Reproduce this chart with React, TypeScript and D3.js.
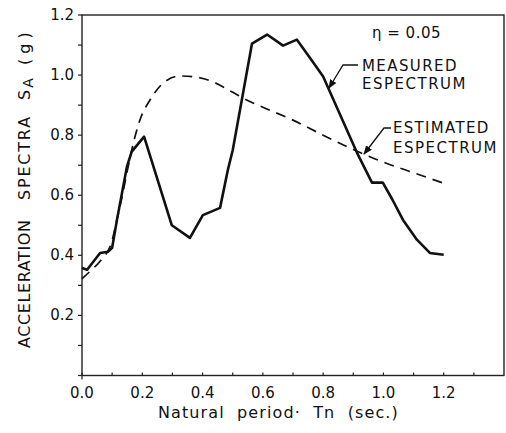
import React from "react";
import * as d3 from "d3";

// natural period T (sec) vs spectral acceleration SA (g)
const measuredT = [0, 0.017, 0.06, 0.086, 0.1, 0.116, 0.149, 0.165, 0.206, 0.298, 0.358, 0.401, 0.458, 0.484, 0.5, 0.564, 0.614, 0.667, 0.713, 0.756, 0.8, 0.912, 0.962, 0.998, 1.03, 1.065, 1.111, 1.154, 1.2];
const measuredSA = [0.358, 0.352, 0.408, 0.412, 0.425, 0.518, 0.695, 0.745, 0.795, 0.5, 0.458, 0.534, 0.558, 0.685, 0.75, 1.105, 1.135, 1.098, 1.118, 1.058, 0.995, 0.742, 0.642, 0.642, 0.585, 0.518, 0.452, 0.408, 0.402];

const estimatedT = [0, 0.03, 0.06, 0.1, 0.116, 0.133, 0.149, 0.166, 0.192, 0.226, 0.275, 0.325, 0.38, 0.44, 0.49, 0.557, 0.6, 0.7, 0.8, 0.9, 1.0, 1.1, 1.2];
const estimatedSA = [0.322, 0.35, 0.38, 0.45, 0.52, 0.595, 0.675, 0.755, 0.85, 0.918, 0.978, 0.997, 0.993, 0.975, 0.948, 0.912, 0.893, 0.85, 0.8, 0.752, 0.71, 0.675, 0.64];

const xTickLabels = ["0.0", "0.2", "0.4", "0.6", "0.8", "1.0", "1.2"];
const yTickLabels = ["0.2", "0.4", "0.6", "0.8", "1.0", "1.2"];

const font = "'DejaVu Sans', sans-serif";

const App = () => {
  const x = d3.scaleLinear().domain([0, 1.4]).range([82, 504]);
  const y = d3.scaleLinear().domain([0, 1.2]).range([375.5, 15]);

  const line = d3
    .line<number>()
    .x((d, i) => x(measuredT[i]))
    .y((d) => y(d));

  const dashLine = d3
    .line<number>()
    .x((d, i) => x(estimatedT[i]))
    .y((d) => y(d))
    .curve(d3.curveMonotoneX);

  const minor = d3.range(0, 13).map((i) => i / 10);
  const minorX = d3.range(0, 14).map((i) => i / 10);

  return (
    <div style={{ position: "absolute", left: 0, top: 0 }}>
      <svg width={506} height={433} style={{ display: "block", background: "#fff" }}>
        <defs>
          <marker id="arr" viewBox="0 0 10 10" refX="9" refY="5" markerWidth="7" markerHeight="7" orient="auto">
            <path d="M0,1 L10,5 L0,9 z" fill="#111" />
          </marker>
        </defs>

        {/* frame */}
        <rect x={x(0)} y={y(1.2)} width={x(1.4) - x(0)} height={y(0) - y(1.2)} fill="none" stroke="#222" strokeWidth={1.4} />

        {/* y ticks */}
        {minor.map((v) => (
          <line key={"yt" + v} x1={x(0) - 4} x2={x(0)} y1={y(v)} y2={y(v)} stroke="#222" strokeWidth={1.2} />
        ))}
        {/* x ticks */}
        {minorX.map((v) => (
          <line key={"xt" + v} x1={x(v)} x2={x(v)} y1={y(0)} y2={y(0) - 3} stroke="#222" strokeWidth={1.2} />
        ))}
        <line x1={x(0)} x2={x(0)} y1={y(0)} y2={y(0) + 4} stroke="#222" strokeWidth={1.2} />

        {/* tick labels */}
        {yTickLabels.map((t) => (
          <text key={"yl" + t} x={74} y={y(+t) + 5} textAnchor="end" fontFamily={font} fontSize={15} fill="#111">
            {t}
          </text>
        ))}
        {xTickLabels.map((t) => (
          <text key={"xl" + t} x={x(+t)} y={398} textAnchor="middle" fontFamily={font} fontSize={15} fill="#111">
            {t}
          </text>
        ))}

        {/* curves */}
        <path d={dashLine(estimatedSA) || ""} fill="none" stroke="#111" strokeWidth={1.7} strokeDasharray="10,7" />
        <path d={line(measuredSA) || ""} fill="none" stroke="#111" strokeWidth={2.6} strokeLinejoin="round" />

        {/* annotations */}
        <text x={372} y={38} fontFamily={font} fontSize={15} fill="#111" letterSpacing={0.5}>
          η = 0.05
        </text>
        <text x={362} y={71} fontFamily={font} fontSize={15} fill="#111" letterSpacing={1.4}>
          MEASURED
        </text>
        <text x={362} y={89} fontFamily={font} fontSize={15} fill="#111" letterSpacing={1.5}>
          ESPECTRUM
        </text>
        <text x={393} y={133} fontFamily={font} fontSize={15} fill="#111" letterSpacing={1.3}>
          ESTIMATED
        </text>
        <text x={393} y={153} fontFamily={font} fontSize={15} fill="#111" letterSpacing={1.5}>
          ESPECTRUM
        </text>
        <path d="M358,65 L343,65 L329,88" fill="none" stroke="#111" strokeWidth={1.3} markerEnd="url(#arr)" />
        <path d="M391,128 L384,128 L364,154" fill="none" stroke="#111" strokeWidth={1.3} markerEnd="url(#arr)" />

        {/* axis titles */}
        <text x={158} y={418} fontFamily={font} fontSize={16} fill="#111" letterSpacing={1.1} style={{ whiteSpace: "pre" }}>
          Natural  period·  Tn  (sec.)
        </text>
        <g fontFamily={font} fontSize={16} fill="#111">
          <text transform="translate(30,348) rotate(-90)" letterSpacing={0.6}>ACCELERATION</text>
          <text transform="translate(30,200) rotate(-90)" letterSpacing={1.8}>SPECTRA</text>
          <text transform="translate(30,100) rotate(-90)">
            S<tspan dx={2} dy={3} fontSize={14}>A</tspan>
          </text>
          <text transform="translate(30,65) rotate(-90)" style={{ whiteSpace: "pre" }}>( g )</text>
        </g>
      </svg>
    </div>
  );
};

export default App;
